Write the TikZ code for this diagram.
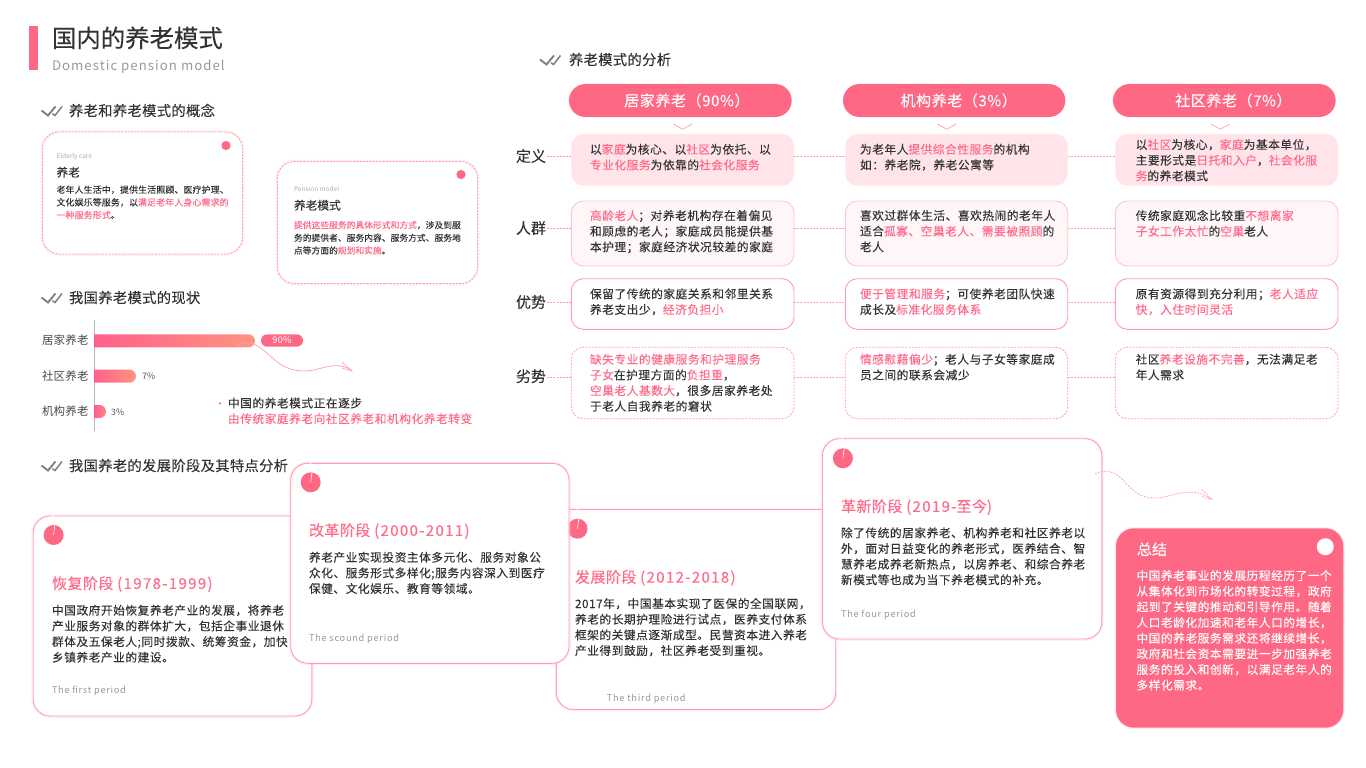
\documentclass[tikz,border=0pt]{standalone}
\usepackage{fontspec}
\setmainfont[FakeBold=0.12]{Noto Sans CJK SC}
\newfontfamily\lightf{Noto Sans CJK SC}
\definecolor{ink}{HTML}{333333}
\definecolor{pk}{HTML}{FF6884}
\definecolor{pkt}{HTML}{FF6B8B}
\definecolor{pkl}{HTML}{FF9DB0}
\definecolor{pks}{HTML}{FFC4CF}
\definecolor{g1}{HTML}{999999}
\definecolor{g2}{HTML}{808080}
\definecolor{barA}{HTML}{FF5F8C}
\definecolor{barB}{HTML}{FF9480}
\newcommand\fsz[3]{\fontsize{#1}{#2}\selectfont\addfontfeature{LetterSpace=#3}}
\newcommand\hi[1]{\textcolor{pkt}{#1}}
\newcommand\ls[1]{{\addfontfeature{LetterSpace=9}#1}}
\newcommand\boxat[6][]{%
  \pgfmathsetmacro\bw{#5-#3}\pgfmathsetmacro\bh{#6-#4}%
  \node[#1,anchor=north west,minimum width=\bw pt,minimum height=\bh pt,inner sep=0pt,outer sep=0pt] (#2) at (#3,#4) {};}
\newcommand\chk[3]{%
  \coordinate (#1a) at (#2,#3);
  \draw[chkl] (#2,#3) -- ++(6.5,5) -- ++(7.5,-9);
  \draw[chkl,line width=1.5pt] (#2+11,#3+3.2) -- ++(2.5,1.8) -- ++(7,-9);}
\newcommand\stagedot[3]{%
  \node[circle,fill=pk,minimum size=20pt,inner sep=0pt] (#1) at (#2,#3) {};
  \draw[white,line width=.6pt] (#1.center) -- ([xshift=1.2pt,yshift=-.5pt]#1.north);
  \draw[white,line width=1pt] ([yshift=8pt]#1.north) -- ([yshift=11pt]#1.north);}
\tikzset{
  tx/.style={anchor=north west,inner sep=0pt,outer sep=0pt,align=left,text=ink,yshift=#1,execute at begin node=\strut},
  tx/.default=6.5pt,
  body/.style={tx=5.9pt,font=\fsz{11.7}{15.65}{4.6}},
  smallb/.style={tx=5pt,font=\fsz{8.9}{12.7}{2}},
  sect/.style={tx=8pt,font=\fsz{14.3}{18.6}{2.3}},
  stitle/.style={tx=8pt,text=pkt,font=\fsz{15}{19.5}{3}},
  period/.style={tx=4.6pt,text=g1,font=\lightf\fsz{9.2}{12}{8}},
  tiny/.style={tx=3.5pt,text=g1!80,font=\lightf\fsz{6.5}{8.5}{0}},
  chkl/.style={draw=g2,line width=1.9pt},
  glow/.style={preaction={draw=pks,line width=3.5pt,draw opacity=.3,solid}},
  dcard/.style={draw=pkl,fill=white,line width=.9pt,rounded corners=17pt,dash pattern=on 2pt off 1.3pt,glow},
  scard/.style={draw=pkl,fill=white,line width=.9pt,rounded corners=17pt,glow},
  hpill/.style={fill=pk,rounded corners=16.5pt},
  r1/.style={fill=pk!18,rounded corners=12pt},
  r2/.style={draw=pks,fill=pk!6,line width=.9pt,rounded corners=12pt},
  r3/.style={draw=pkl,fill=white,line width=.9pt,rounded corners=12pt},
  r4/.style={draw=pkl,fill=white,line width=.8pt,rounded corners=12pt,dash pattern=on 2pt off 1.3pt},
  conn/.style={draw=pkl,line width=.7pt,dash pattern=on 2pt off 1.2pt},
  chev/.style={draw=pkl,line width=.7pt},
  rlab/.style={tx=8.4pt,font=\fsz{15}{19.5}{0}},
  blab/.style={tx=6.4pt,text=ink!90,font=\lightf\fsz{11.5}{15}{2}},
  pct/.style={tx=4.7pt,text=ink!85,font=\lightf\fsz{8.8}{11.5}{3}},
  hdr/.style={text=white,font=\fsz{15}{19}{4},inner sep=0pt},
}
\begin{document}
\begin{tikzpicture}[x=1pt,y=-1pt]
\useasboundingbox (0,0) rectangle (1366,768);
% title
\fill[pk] (29,26) rectangle (38,70);
\node[tx=12.9pt,font=\fsz{24.4}{31.6}{0}] (title) at (52,38) {国内的养老模式};
\node[tx=6.8pt,text=g1,font=\lightf\fsz{13.2}{17}{8}] (subtitle) at (52,65) {Domestic pension model};
% section heads
\chk{ck1}{41.5}{110.5}
\node[sect] (s1) at (69,111) {养老和养老模式的概念};
\chk{ck2}{41.5}{297.5}
\node[sect] (s2) at (69,298) {我国养老模式的现状};
\chk{ck3}{41.5}{465.5}
\node[sect] (s3) at (69,466) {我国养老的发展阶段及其特点分析};
\chk{ck4}{540}{59.5}
\node[sect] (s4) at (569,60) {养老模式的分析};
% concept cards
\boxat[dcard]{cA}{42.5}{132}{242.5}{254}
\fill[pk] (226,145.5) circle (4.6);
\node[tiny] (cA1) at (56.5,156.5) {Elderly care};
\node[tx=5.8pt,font=\fsz{11.7}{15}{0}] (cA2) at (56.5,172) {养老};
\node[smallb] (cA3) at (56.5,190.5) {老年人生活中，提供生活照顾、医疗护理、\\文化娱乐等服务，以\hi{满足老年人身心需求的}\\\hi{一种服务形式}。};
\boxat[dcard]{cB}{277.5}{161.5}{477.5}{283.5}
\fill[pk] (461,174.5) circle (4.6);
\node[tiny] (cB1) at (294,189.5) {Pension model};
\node[tx=5.8pt,font=\fsz{11.7}{15}{0}] (cB2) at (294,205) {养老模式};
\node[smallb,font=\fsz{8.7}{12.7}{1}] (cB3) at (294,226) {\hi{提供这些服务的具体形式和方式}，涉及到服\\务的提供者、服务内容、服务方式、服务地\\点等方面的\hi{规划和实施}。};
% chart
\draw[draw=g1!70,line width=.9pt] (94,320) -- (94,431);
\shade[left color=barA,right color=barB] (94,334.3) [rounded corners=6.5pt] -- (255,334.3) -- (255,347.3) [sharp corners] -- (94,347.3) -- cycle;
\shade[left color=barA,right color=barB] (94,369.7) [rounded corners=6.5pt] -- (136,369.7) -- (136,382.7) [sharp corners] -- (94,382.7) -- cycle;
\shade[left color=barA,right color=barB!70!barA] (94,405) [rounded corners=6.5pt] -- (106,405) -- (106,418) [sharp corners] -- (94,418) -- cycle;
\node[blab] (b1) at (42,340.5) {居家养老};
\node[blab] (b2) at (42,376) {社区养老};
\node[blab] (b3) at (42,411.5) {机构养老};
\node[fill=pk,rounded corners=6.2pt,minimum width=42pt,minimum height=12.4pt,inner sep=0pt,text=white,font=\lightf\fsz{9.2}{12}{3}] (p1) at (282,340.5) {90\%};
\node[pct] (p2) at (142,376) {7\%};
\node[pct] (p3) at (111,412) {3\%};
\coordinate (c1s) at (236,346);
\coordinate (c1e) at (352,371);
\draw[pkl,line width=.7pt] (c1s) .. controls (245,340) and (253,342) .. (262,349) .. controls (275,359) and (282,371) .. (305,371) .. controls (320,371) and (337,359) .. (c1e);
\draw[pkl,line width=.6pt] (342,362) -- (c1e) -- (342,368);
\fill[pkt] (220,403.3) circle (1.3);
\node[body] (note) at (228,403.5) {中国的养老模式正在逐步\\\hi{由传统家庭养老向社区养老和机构化养老转变}};
% table heads
\boxat[hpill]{h1}{569}{84}{791.7}{117}
\boxat[hpill]{h2}{843}{84}{1065.3}{117}
\boxat[hpill]{h3}{1113}{84}{1335.7}{117}
\node[hdr,xshift=6.5pt] (h1t) at (h1) {居家养老（90\%）};
\node[hdr,xshift=4.5pt] (h2t) at (h2) {机构养老（3\%）};
\node[hdr,xshift=9pt] (h3t) at (h3) {社区养老（7\%）};
\draw[chev] (673.3,124) -- (682.7,129.3) -- (692,124);
\draw[chev] (937.5,124) -- (946.8,129.3) -- (956.2,124);
\draw[chev] (1211,124) -- (1220.3,129.3) -- (1229.7,124);
% row labels
\node[rlab] (l1) at (516,156.5) {定义};
\node[rlab] (l2) at (516,228.5) {人群};
\node[rlab] (l3) at (516,302.5) {优势};
\node[rlab] (l4) at (516,376.7) {劣势};
\coordinate (y1) at (0,156.7);
\coordinate (y2) at (0,228.6);
\coordinate (y3) at (0,302.3);
\coordinate (y4) at (0,377);
% table cells
\boxat[r1]{a1}{571.3}{134}{794}{185.7}
\boxat[r1]{b1c}{845.3}{134}{1067.7}{185.7}
\boxat[r1]{d1}{1115.3}{134}{1338}{185.7}
\boxat[r2]{a2}{571.3}{201}{794}{266}
\boxat[r2]{b2c}{845.3}{201}{1067.7}{266}
\boxat[r2]{d2}{1115.3}{201}{1338}{266}
\boxat[r3]{a3}{571.3}{278.7}{794}{329.3}
\boxat[r3]{b3c}{845.3}{278.7}{1067.7}{329.3}
\boxat[r3]{d3}{1115.3}{278.7}{1338}{329.3}
\boxat[r4]{a4}{571.3}{347.3}{794}{418.7}
\boxat[r4]{b4c}{845.3}{347.3}{1067.7}{418.7}
\boxat[r4]{d4}{1115.3}{347.3}{1338}{418.7}
\draw[conn] (547,156.7) -- (a1.west |- y1);
\draw[conn] (547,228.6) -- (a2.west |- y2);
\draw[conn] (547,302.3) -- (a3.west |- y3);
\draw[conn] (547,377) -- (a4.west |- y4);
\draw[conn] (a1.east |- y1) -- (b1c.west |- y1);
\draw[conn] (b1c.east |- y1) -- (d1.west |- y1);
\draw[conn] (a2.east |- y2) -- (b2c.west |- y2);
\draw[conn] (b2c.east |- y2) -- (d2.west |- y2);
\draw[conn] (a3.east |- y3) -- (b3c.west |- y3);
\draw[conn] (b3c.east |- y3) -- (d3.west |- y3);
\draw[conn] (a4.east |- y4) -- (b4c.west |- y4);
\draw[conn] (b4c.east |- y4) -- (d4.west |- y4);
\node[body] (t11) at (590,149.7) {以\hi{家庭}为核心、以\hi{社区}为依托、以\\\hi{专业化服务}为依靠的\hi{社会化服务}};
\node[body] (t12) at (860,149.7) {为老年人\hi{提供综合性服务}的机构\\如：养老院，养老公寓等};
\node[body] (t13) at (1135.7,145) {以\hi{社区}为核心，\hi{家庭}为基本单位，\\主要形式是\hi{日托和入户}，\hi{社会化服}\\\hi{务}的养老模式};
\node[body] (t21) at (590,216) {\hi{高龄老人}；对养老机构存在着偏见\\和顾虑的老人；家庭成员能提供基\\本护理；家庭经济状况较差的家庭};
\node[body] (t22) at (860,216) {喜欢过群体生活、喜欢热闹的老年人\\适合\hi{孤寡、空巢老人、需要被照顾}的\\老人};
\node[body] (t23) at (1135.7,216) {传统家庭观念比较重\hi{不想离家}\\\hi{子女工作太忙}的\hi{空巢}老人};
\node[body] (t31) at (590,294.3) {保留了传统的家庭关系和邻里关系\\养老支出少，\hi{经济负担小}};
\node[body] (t32) at (860,294.3) {\hi{便于管理和服务}；可使养老团队快速\\成长及\hi{标准化服务体系}};
\node[body] (t33) at (1135.7,294.3) {原有资源得到充分利用；\hi{老人适应}\\\hi{快，入住时间灵活}};
\node[body] (t41) at (590,359.7) {\hi{缺失专业的健康服务和护理服务}\\\hi{子女}在护理方面的\hi{负担重}，\\\hi{空巢老人基数大}，很多居家养老处\\于老人自我养老的窘状};
\node[body] (t42) at (860,359.7) {\hi{情感慰藉偏少}；老人与子女等家庭成\\员之间的联系会减少};
\node[body] (t43) at (1135.7,359.7) {社区\hi{养老设施不完善}，无法满足老\\年人需求};
% stage cards
\boxat[scard]{sA}{33.2}{516}{311.8}{716}
\stagedot{dA}{53.6}{535}
\node[stitle] (sA1) at (52,583.3) {恢复阶段 \ls{(1978-1999)}};
\node[body] (sA2) at (52,610.7) {中国政府开始恢复养老产业的发展，将养老\\产业服务对象的群体扩大，包括企事业退休\\群体及五保老人;同时拨款、统筹资金，加快\\乡镇养老产业的建设。};
\node[period] (sA3) at (52,690) {The first period};
\boxat[scard]{sC}{556.4}{509.5}{835.7}{709.5}
\stagedot{dC}{577.5}{528.7}
\node[stitle] (sC1) at (575,577) {发展阶段 \ls{(2012-2018)}};
\node[body] (sC2) at (575,604) {2017年，中国基本实现了医保的全国联网，\\养老的长期护理险进行试点，医养支付体系\\框架的关键点逐渐成型。民营资本进入养老\\产业得到鼓励，社区养老受到重视。};
\node[period] (sC3) at (606.8,697.7) {The third period};
\boxat[scard]{sB}{290.7}{463.3}{569}{663.3}
\stagedot{dB}{310.7}{482.3}
\node[stitle] (sB1) at (309,530.3) {改革阶段 \ls{(2000-2011)}};
\node[body] (sB2) at (309,557.7) {养老产业实现投资主体多元化、服务对象公\\众化、服务形式多样化;服务内容深入到医疗\\保健、文化娱乐、教育等领域。};
\node[period] (sB3) at (309,637.7) {The scound period};
\boxat[scard]{sD}{822.5}{438.7}{1101.8}{639}
\stagedot{dD}{842.9}{458.3}
\node[stitle] (sD1) at (841,506.3) {革新阶段 \ls{(2019-}至今\ls{)}};
\node[body] (sD2) at (841,533.3) {除了传统的居家养老、机构养老和社区养老以\\外，面对日益变化的养老形式，医养结合、智\\慧养老成养老新热点，以房养老、和综合养老\\新模式等也成为当下养老模式的补充。};
\node[period] (sD3) at (841,613.3) {The four period};
\coordinate (c2s) at (1095,474);
\coordinate (c2e) at (1211.7,499.3);
\draw[conn] (c2s) .. controls (1102,470) and (1112,469) .. (1123,480) .. controls (1133,491) and (1140,498) .. (1155,498) .. controls (1172,498) and (1190,484) .. (c2e);
\draw[conn] (1201.7,489.3) -- (c2e) -- (1201.7,496.7);
% summary
\boxat[fill=pk,rounded corners=18pt,preaction={draw=pks,line width=3pt,draw opacity=.3}]{sum}{1116}{528.3}{1343.3}{727.7}
\node[circle,fill=white,minimum size=17pt,inner sep=0pt] (sumdot) at (1325.3,546.7) {};
\node[tx=8pt,text=white,font=\fsz{15}{19.5}{0}] (sum1) at (1137,549.3) {总结};
\node[body,text=white] (sum2) at (1136.5,576) {中国养老事业的发展历程经历了一个\\从集体化到市场化的转变过程，政府\\起到了关键的推动和引导作用。随着\\人口老龄化加速和老年人口的增长，\\中国的养老服务需求还将继续增长，\\政府和社会资本需要进一步加强养老\\服务的投入和创新，以满足老年人的\\多样化需求。};
\end{tikzpicture}
\end{document}
